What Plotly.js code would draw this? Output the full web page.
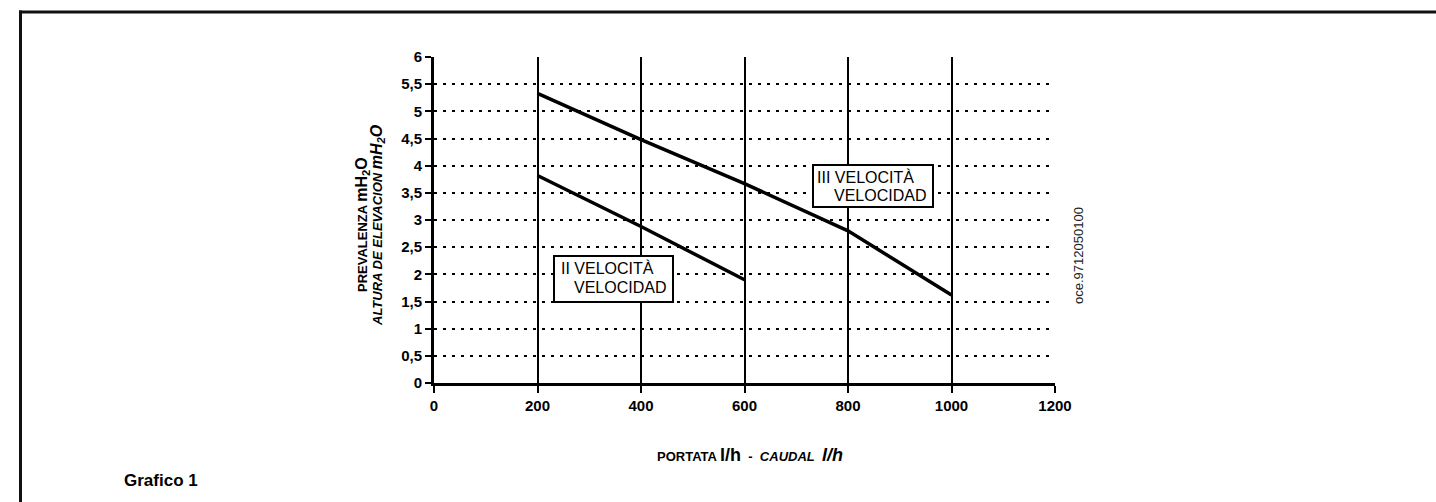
<!DOCTYPE html>
<html>
<head>
<meta charset="utf-8">
<script src="https://cdn.plot.ly/plotly-3.0.1.min.js"></script>
<style>html,body{margin:0;padding:0;background:#fff;}#chart{width:1436px;height:502px;}</style>
</head>
<body>
<div id="chart"></div>
<script>
// ---- data ----
const xSpeed2 = [200, 400, 600];
const ySpeed2 = [3.82, 2.88, 1.9];
const xSpeed3 = [200, 400, 600, 800, 1000];
const ySpeed3 = [5.33, 4.48, 3.67, 2.8, 1.62];
const xTickVals = [0, 200, 400, 600, 800, 1000, 1200];
const xTickText = ['0', '200', '400', '600', '800', '1000', '1200'];
const yTickVals = [0, 0.5, 1, 1.5, 2, 2.5, 3, 3.5, 4, 4.5, 5, 5.5, 6];
const yTickText = ['0', '0,5', '1', '1,5', '2', '2,5', '3', '3,5', '4', '4,5', '5', '5,5', '6'];

const FONT = 'Liberation Sans, Arial, sans-serif';
const NB = '\u00a0';

// plot area in pixels (for placing layout items)
const L = 434, R = 1055, T = 57, B = 383;
const px = v => (v - L) / (R - L);
const py = v => (B - v) / (B - T);

const lineStyle = {color: '#000', width: 3.5};
const traces = [
  {x: xSpeed2, y: ySpeed2, type: 'scatter', mode: 'lines', line: lineStyle, hoverinfo: 'skip', showlegend: false},
  {x: xSpeed3, y: ySpeed3, type: 'scatter', mode: 'lines', line: lineStyle, hoverinfo: 'skip', showlegend: false}
];

const layout = {
  width: 1436, height: 502,
  margin: {l: L, r: 1436 - R, t: T, b: 502 - B, pad: 0},
  paper_bgcolor: '#fff', plot_bgcolor: '#fff',
  showlegend: false,
  font: {family: FONT, color: '#000'},
  xaxis: {
    range: [0, 1200], tickmode: 'array', tickvals: xTickVals,
    ticktext: xTickText.map(t => '<b>' + t + '</b>'),
    tickfont: {family: FONT, size: 15, color: '#000'},
    showgrid: true, gridcolor: '#000', gridwidth: 2,
    showline: true, linecolor: '#000', linewidth: 3,
    ticks: 'outside', ticklen: 7, tickwidth: 2, tickcolor: '#000',
    zeroline: false, fixedrange: true
  },
  yaxis: {
    range: [0, 6], tickmode: 'array', tickvals: yTickVals,
    ticktext: yTickText.map(t => '<b>' + t + '</b>'),
    tickfont: {family: FONT, size: 15, color: '#000'},
    showgrid: true, gridcolor: '#000', gridwidth: 2, griddash: '3px,6px',
    showline: true, linecolor: '#000', linewidth: 3,
    ticks: 'outside', ticklen: 6, tickwidth: 2, tickcolor: '#000',
    zeroline: false, fixedrange: true
  },
  yaxis2: {
    overlaying: 'y', anchor: 'x', side: 'left',
    range: [0, 6], tickmode: 'array', tickvals: yTickVals,
    showticklabels: false, showgrid: false, zeroline: false, showline: false,
    ticks: 'inside', ticklen: 7, tickwidth: 2, tickcolor: '#000', fixedrange: true
  },
  shapes: [
    // outer frame (top and left)
    {type: 'line', xref: 'paper', yref: 'paper', x0: px(19), x1: px(1440), y0: py(12), y1: py(12), line: {color: '#111', width: 3}},
    {type: 'line', xref: 'paper', yref: 'paper', x0: px(20.5), x1: px(20.5), y0: py(10.5), y1: py(506), line: {color: '#111', width: 3}},
    // label boxes
    {type: 'rect', xref: 'paper', yref: 'paper', x0: px(554), x1: px(673), y0: py(302), y1: py(256), fillcolor: '#fff', line: {color: '#000', width: 2}, layer: 'above'},
    {type: 'rect', xref: 'paper', yref: 'paper', x0: px(813), x1: px(933), y0: py(207), y1: py(165), fillcolor: '#fff', line: {color: '#000', width: 2}, layer: 'above'}
  ],
  annotations: [
    {xref: 'paper', yref: 'paper', x: px(559), y: py(268), xanchor: 'left', yanchor: 'middle', showarrow: false,
     text: 'II VELOCITÀ', font: {family: FONT, size: 16, color: '#000'}},
    {xref: 'paper', yref: 'paper', x: px(572), y: py(287), xanchor: 'left', yanchor: 'middle', showarrow: false,
     text: 'VELOCIDAD', font: {family: FONT, size: 16, color: '#000'}},
    {xref: 'paper', yref: 'paper', x: px(815), y: py(177), xanchor: 'left', yanchor: 'middle', showarrow: false,
     text: 'III VELOCITÀ', font: {family: FONT, size: 16, color: '#000'}},
    {xref: 'paper', yref: 'paper', x: px(832), y: py(195), xanchor: 'left', yanchor: 'middle', showarrow: false,
     text: 'VELOCIDAD', font: {family: FONT, size: 16, color: '#000'}},
    // y axis title (two lines)
    {xref: 'paper', yref: 'paper', x: px(362), y: py(225), xanchor: 'center', yanchor: 'middle', showarrow: false, textangle: -90,
     text: '<b>PREVALENZA <span style="font-size:16px">mH<sub>2</sub>O</span></b>', font: {family: FONT, size: 13, color: '#000'}},
    {xref: 'paper', yref: 'paper', x: px(377), y: py(225), xanchor: 'center', yanchor: 'middle', showarrow: false, textangle: -90,
     text: '<b><i>ALTURA DE ELEVACION <span style="font-size:16px">mH<sub>2</sub>O</span></i></b>', font: {family: FONT, size: 13, color: '#000'}},
    // x axis title
    {xref: 'paper', yref: 'paper', x: px(750), y: py(455), xanchor: 'center', yanchor: 'middle', showarrow: false,
     text: '<b>PORTATA <span style="font-size:18px">l/h</span>' + NB + NB + '-' + NB + NB + '<i>CAUDAL' + NB + NB + '<span style="font-size:18px">l/h</span></i></b>',
     font: {family: FONT, size: 13, color: '#000'}},
    // vertical code text
    {xref: 'paper', yref: 'paper', x: px(1078), y: py(256), xanchor: 'center', yanchor: 'middle', showarrow: false, textangle: -90,
     text: 'oce.9712050100', font: {family: FONT, size: 13, color: '#222'}},
    // caption
    {xref: 'paper', yref: 'paper', x: px(122), y: py(480), xanchor: 'left', yanchor: 'middle', showarrow: false,
     text: '<b>Grafico 1</b>', font: {family: FONT, size: 17, color: '#000'}}
  ]
};

Plotly.newPlot('chart', traces, layout, {displayModeBar: false, staticPlot: true});
</script>
</body>
</html>
